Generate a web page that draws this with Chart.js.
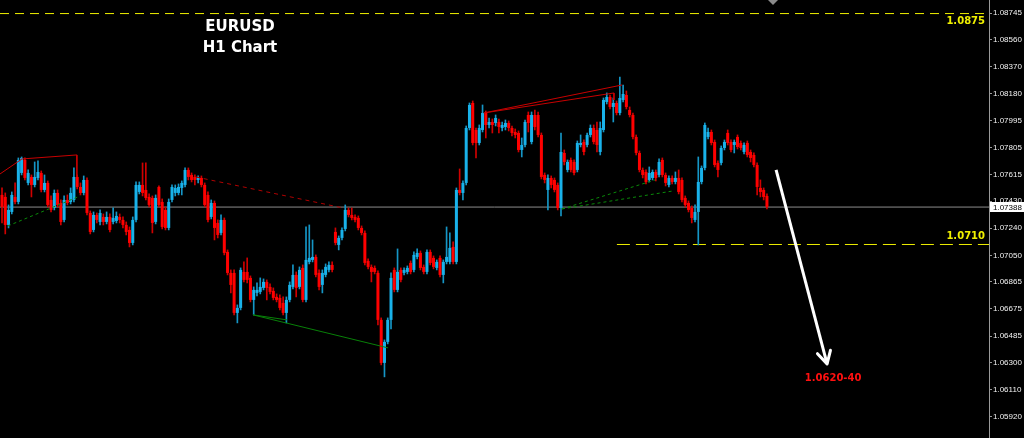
<!DOCTYPE html>
<html><head><meta charset="utf-8">
<script src="https://cdn.jsdelivr.net/npm/chart.js@4.4.1/dist/chart.umd.min.js"></script>
<style>html,body{margin:0;padding:0;background:#000;overflow:hidden}canvas{display:block}</style>
</head><body>
<canvas id="c" width="1024" height="438"></canvas>
<script>
// ---- EURUSD H1 candles (prices) ----
const opens = [1.07473,1.07459,1.07263,1.07354,1.07459,1.07424,1.07627,1.07718,1.07557,1.07599,
1.07543,1.07592,1.07627,1.07508,1.07557,1.07438,1.07382,1.07487,1.07417,1.07298,
1.07438,1.07424,1.07438,1.07599,1.07529,1.07487,1.07578,1.07347,1.07228,1.07333,
1.07284,1.07319,1.07284,1.07319,1.07284,1.07291,1.07319,1.07298,1.07263,1.07228,
1.07137,1.07298,1.07494,1.07543,1.07508,1.07459,1.07452,1.07284,1.07529,1.07424,
1.07368,1.07242,1.07438,1.07487,1.07487,1.07522,1.07543,1.07648,1.07613,1.07599,
1.07578,1.07592,1.07543,1.07473,1.07319,1.07417,1.07277,1.07207,1.07298,1.07074,
1.06927,1.06927,1.06647,1.06682,1.06934,1.06934,1.06892,1.06738,1.06787,1.06794,
1.06822,1.06864,1.06829,1.06801,1.06759,1.06752,1.06717,1.06647,1.06738,1.06829,
1.06913,1.06829,1.06962,1.06738,1.07004,1.07018,1.07039,1.06927,1.06843,1.06913,
1.06948,1.06983,1.07214,1.07123,1.07172,1.07235,1.07368,1.07333,1.07319,1.07312,
1.07242,1.07207,1.07011,1.06969,1.06962,1.06927,1.06598,1.06297,1.06444,1.06598,
1.06948,1.06808,1.06948,1.06927,1.06934,1.06997,1.06948,1.07039,1.07067,1.06969,
1.06934,1.07074,1.07032,1.06962,1.07032,1.06913,1.07004,1.07004,1.07109,1.07004,
1.07508,1.07487,1.07557,1.07942,1.08117,1.07928,1.07837,1.07928,1.08047,1.07963,
1.07984,1.07977,1.07984,1.07942,1.07949,1.07977,1.07942,1.07914,1.07907,1.07788,
1.07823,1.08033,1.07844,1.08033,1.08033,1.07893,1.07613,1.07508,1.07592,1.07578,
1.07543,1.07382,1.07767,1.07648,1.07718,1.07704,1.07648,1.07823,1.07844,1.07823,
1.07893,1.07942,1.07928,1.07774,1.07928,1.08124,1.08159,1.08089,1.08117,1.08047,
1.08138,1.08173,1.08068,1.08033,1.07879,1.07767,1.07648,1.07634,1.07578,1.07592,
1.07634,1.07613,1.07718,1.07613,1.07543,1.07592,1.07564,1.07592,1.07578,1.07452,
1.07417,1.07382,1.07298,1.07354,1.07564,1.07662,1.07879,1.07914,1.07844,1.07697,
1.07697,1.07802,1.07907,1.07844,1.07823,1.07879,1.07837,1.07774,1.07837,1.07774,
1.07753,1.07683,1.07522,1.07508,1.07466];
const highs = [1.07522,1.07487,1.07403,1.07494,1.07557,1.07732,1.07739,1.07732,1.07648,1.07613,
1.07704,1.07711,1.07641,1.07613,1.07571,1.07466,1.07508,1.07508,1.07438,1.07466,
1.07473,1.07522,1.07662,1.07613,1.07557,1.07606,1.07592,1.07361,1.07354,1.07347,
1.07368,1.07340,1.07354,1.07340,1.07382,1.07354,1.07340,1.07319,1.07284,1.07249,
1.07319,1.07564,1.07564,1.07697,1.07697,1.07480,1.07466,1.07473,1.07536,1.07445,
1.07389,1.07445,1.07543,1.07543,1.07550,1.07571,1.07662,1.07662,1.07627,1.07613,
1.07606,1.07606,1.07557,1.07494,1.07438,1.07431,1.07298,1.07333,1.07312,1.07088,
1.06948,1.06948,1.06703,1.06962,1.07004,1.07032,1.06906,1.06829,1.06857,1.06892,
1.06885,1.06878,1.06850,1.06822,1.06780,1.06773,1.06759,1.06759,1.06864,1.06983,
1.06934,1.06969,1.06983,1.07249,1.07263,1.07158,1.07053,1.06948,1.06948,1.06990,
1.07004,1.07004,1.07242,1.07186,1.07242,1.07403,1.07382,1.07382,1.07333,1.07326,
1.07256,1.07221,1.07025,1.06983,1.06976,1.06941,1.06612,1.06458,1.06612,1.06927,
1.06962,1.07095,1.06962,1.06962,1.06976,1.07011,1.07074,1.07095,1.07081,1.06983,
1.07088,1.07088,1.07046,1.07018,1.07046,1.07018,1.07249,1.07207,1.07144,1.07522,
1.07655,1.07571,1.07956,1.08117,1.08131,1.07942,1.07963,1.08103,1.08061,1.08012,
1.08005,1.08033,1.08005,1.07984,1.07998,1.07991,1.07956,1.07935,1.07921,1.07872,
1.07998,1.08054,1.08054,1.08068,1.08054,1.07907,1.07627,1.07613,1.07606,1.07592,
1.07557,1.07907,1.07788,1.07718,1.07732,1.07718,1.07851,1.07893,1.07858,1.07907,
1.07963,1.07963,1.07984,1.07984,1.08152,1.08187,1.08173,1.08152,1.08131,1.08299,
1.08243,1.08201,1.08089,1.08047,1.07893,1.07781,1.07662,1.07648,1.07669,1.07648,
1.07648,1.07725,1.07732,1.07627,1.07606,1.07606,1.07634,1.07648,1.07592,1.07466,
1.07431,1.07396,1.07403,1.07739,1.07676,1.07977,1.07942,1.07928,1.07858,1.07711,
1.07816,1.07858,1.07928,1.07858,1.07858,1.07893,1.07851,1.07837,1.07851,1.07788,
1.07767,1.07697,1.07578,1.07522,1.07480];
const lows = [1.07277,1.07200,1.07242,1.07340,1.07410,1.07410,1.07613,1.07578,1.07543,1.07459,
1.07529,1.07578,1.07494,1.07494,1.07389,1.07354,1.07368,1.07389,1.07263,1.07284,
1.07403,1.07410,1.07424,1.07515,1.07473,1.07473,1.07333,1.07200,1.07214,1.07277,
1.07263,1.07263,1.07270,1.07214,1.07270,1.07277,1.07277,1.07242,1.07193,1.07109,
1.07123,1.07284,1.07480,1.07466,1.07438,1.07389,1.07207,1.07270,1.07389,1.07235,
1.07228,1.07228,1.07424,1.07466,1.07473,1.07473,1.07529,1.07578,1.07564,1.07543,
1.07557,1.07529,1.07389,1.07284,1.07305,1.07158,1.07172,1.07193,1.07053,1.06913,
1.06787,1.06633,1.06577,1.06668,1.06864,1.06857,1.06724,1.06633,1.06766,1.06780,
1.06808,1.06738,1.06780,1.06738,1.06724,1.06668,1.06633,1.06577,1.06724,1.06815,
1.06759,1.06815,1.06724,1.06724,1.06990,1.07004,1.06899,1.06808,1.06787,1.06899,
1.06934,1.06934,1.07123,1.07088,1.07158,1.07221,1.07319,1.07298,1.07284,1.07228,
1.07193,1.06983,1.06955,1.06864,1.06920,1.06563,1.06283,1.06199,1.06430,1.06535,
1.06794,1.06794,1.06864,1.06913,1.06920,1.06920,1.06934,1.07025,1.06948,1.06920,
1.06920,1.06983,1.06955,1.06948,1.06899,1.06857,1.06990,1.06990,1.06990,1.06990,
1.07473,1.07438,1.07543,1.07928,1.07823,1.07732,1.07823,1.07914,1.07872,1.07942,
1.07907,1.07956,1.07907,1.07921,1.07928,1.07921,1.07886,1.07872,1.07774,1.07739,
1.07809,1.07914,1.07830,1.07928,1.07879,1.07585,1.07557,1.07368,1.07522,1.07494,
1.07368,1.07326,1.07683,1.07634,1.07634,1.07613,1.07634,1.07809,1.07753,1.07809,
1.07879,1.07830,1.07774,1.07753,1.07914,1.08110,1.08075,1.07984,1.08033,1.08033,
1.08124,1.08075,1.08019,1.07865,1.07753,1.07634,1.07592,1.07550,1.07564,1.07578,
1.07571,1.07599,1.07599,1.07536,1.07529,1.07550,1.07550,1.07480,1.07424,1.07389,
1.07354,1.07277,1.07284,1.07123,1.07550,1.07648,1.07865,1.07823,1.07669,1.07599,
1.07683,1.07788,1.07823,1.07774,1.07767,1.07795,1.07788,1.07760,1.07739,1.07704,
1.07669,1.07473,1.07459,1.07438,1.07375];
const closes = [1.07389,1.07263,1.07368,1.07473,1.07424,1.07718,1.07732,1.07592,1.07627,1.07543,
1.07599,1.07634,1.07508,1.07557,1.07403,1.07368,1.07487,1.07403,1.07284,1.07438,
1.07417,1.07487,1.07599,1.07529,1.07487,1.07578,1.07347,1.07214,1.07333,1.07298,
1.07347,1.07284,1.07319,1.07228,1.07312,1.07326,1.07298,1.07263,1.07214,1.07137,
1.07298,1.07543,1.07543,1.07487,1.07452,1.07403,1.07277,1.07452,1.07403,1.07249,
1.07242,1.07424,1.07529,1.07522,1.07529,1.07557,1.07648,1.07599,1.07578,1.07578,
1.07592,1.07543,1.07403,1.07298,1.07417,1.07242,1.07193,1.07298,1.07067,1.06927,
1.06843,1.06647,1.06682,1.06948,1.06878,1.06878,1.06738,1.06808,1.06808,1.06829,
1.06864,1.06822,1.06794,1.06752,1.06738,1.06682,1.06647,1.06738,1.06843,1.06913,
1.06822,1.06948,1.06738,1.07018,1.07032,1.07039,1.06913,1.06829,1.06927,1.06969,
1.06983,1.06948,1.07137,1.07172,1.07228,1.07368,1.07333,1.07312,1.07298,1.07242,
1.07207,1.06997,1.06969,1.06934,1.06934,1.06598,1.06297,1.06444,1.06598,1.06892,
1.06808,1.06934,1.06878,1.06948,1.06962,1.06934,1.07053,1.07067,1.06962,1.06934,
1.07074,1.06997,1.06969,1.07004,1.06913,1.07004,1.07039,1.07102,1.07004,1.07508,
1.07487,1.07557,1.07942,1.08103,1.07837,1.07837,1.07942,1.08047,1.07963,1.07984,
1.07963,1.08012,1.07949,1.07963,1.07977,1.07942,1.07907,1.07893,1.07788,1.07823,
1.07984,1.07977,1.08033,1.07949,1.07893,1.07599,1.07578,1.07592,1.07543,1.07508,
1.07382,1.07774,1.07704,1.07704,1.07648,1.07627,1.07837,1.07837,1.07774,1.07893,
1.07942,1.07844,1.07823,1.07942,1.08138,1.08159,1.08089,1.08117,1.08047,1.08152,
1.08180,1.08089,1.08033,1.07879,1.07767,1.07648,1.07613,1.07564,1.07627,1.07634,
1.07592,1.07704,1.07613,1.07557,1.07592,1.07564,1.07592,1.07494,1.07438,1.07403,
1.07368,1.07312,1.07354,1.07564,1.07662,1.07963,1.07914,1.07837,1.07683,1.07648,
1.07802,1.07844,1.07837,1.07788,1.07844,1.07809,1.07802,1.07823,1.07753,1.07732,
1.07683,1.07529,1.07494,1.07459,1.07389];

// ---- axis ----
const yTickValues = [1.08745,1.08560,1.08370,1.08180,1.07995,1.07805,1.07615,1.07430,1.07240,1.07050,1.06865,1.06675,1.06485,1.06300,1.06110,1.05920];
const yTickLabels = ['1.08745','1.08560','1.08370','1.08180','1.07995','1.07805','1.07615','1.07430','1.07240','1.07050','1.06865','1.06675','1.06485','1.06300','1.06110','1.05920'];
const yMin = 1.05771, yMax = 1.08838;
const xMin = -0.612, xMax = 301.93;

// ---- levels, annotations (bar index, price) ----
const currentPrice = 1.07388, currentPriceLabel = '1.07388';
const levelTop = 1.08743, levelTopLabel = '1.0875';
const levelSupport = 1.07126, levelSupportLabel = '1.0710', levelSupportFrom = 188.1;
const redTrend1 = [{x:-0.6,y:1.07620},{x:6.1,y:1.07725},{x:22.9,y:1.07753},{x:22.9,y:1.07599}];
const greenDash1 = [{x:1.8,y:1.07256},{x:23.9,y:1.07466}];
const redDash1 = [{x:59.3,y:1.07599},{x:104.3,y:1.07382}];
const greenLineA = [{x:76.8,y:1.06633},{x:87.2,y:1.06598}];
const greenLineB = [{x:76.8,y:1.06633},{x:118.1,y:1.06402}];
const redTopA = [{x:147.4,y:1.08047},{x:189.7,y:1.08243}];
const redTopB = [{x:147.4,y:1.08047},{x:187.2,y:1.08187},{x:187.2,y:1.08138}];
const greenDashC = [{x:171.3,y:1.07375},{x:199.8,y:1.07578}];
const greenDashD = [{x:171.3,y:1.07375},{x:205.3,y:1.07501}];
const arrowPath = [{x:236.8,y:1.07648},{x:252.4,y:1.06290}];
const targetLabel = '1.0620-40';
const titleLines = ['EURUSD','H1 Chart'];

const BLUE = '#19b2ea', RED = '#ff0000', BLUE_W = '#1596c6', RED_W = '#d00000';
const idx = closes.map((_, i) => i);
const isUp = i => closes[i] >= opens[i];

function lineDs(data, color, width, dash, order) {
  return {type:'line', data, borderColor:color, borderWidth:width, borderDash:dash||[],
    pointRadius:0, pointHoverRadius:0, fill:false, tension:0, order, clip:false};
}

const overlay = {
  id:'overlay',
  beforeDraw(chart){ const c=chart.ctx; c.save(); c.fillStyle='#000'; c.fillRect(0,0,chart.width,chart.height); c.restore(); },
  afterDraw(chart){
    const {ctx, chartArea:ca} = chart; const x = chart.scales.x, y = chart.scales.y;
    ctx.save();
    // arrow head
    const x1=x.getPixelForValue(arrowPath[0].x), y1=y.getPixelForValue(arrowPath[0].y);
    const x2=x.getPixelForValue(arrowPath[1].x), y2=y.getPixelForValue(arrowPath[1].y);
    const ang=Math.atan2(y2-y1,x2-x1);
    ctx.strokeStyle='#ffffff'; ctx.lineWidth=3; ctx.lineCap='round';
    ctx.beginPath();
    [-1,1].forEach(s=>{ const a=ang+Math.PI+s*0.5; ctx.moveTo(x2,y2); ctx.lineTo(x2+14*Math.cos(a), y2+14*Math.sin(a)); });
    ctx.stroke();
    // title
    ctx.fillStyle='#ffffff'; ctx.textAlign='center'; ctx.textBaseline='middle';
    ctx.font='bold 15px "DejaVu Sans"';
    ctx.fillText(titleLines[0], 240, 27);
    ctx.fillText(titleLines[1], 240, 48);
    // target label
    ctx.fillStyle='#ff1010'; ctx.font='bold 10px "DejaVu Sans"';
    ctx.fillText(targetLabel, x2+6, y2+15);
    // level labels
    ctx.fillStyle='#f0f000'; ctx.textAlign='right';
    ctx.fillText(levelTopLabel, ca.right-4, y.getPixelForValue(levelTop)+8);
    ctx.fillText(levelSupportLabel, ca.right-4, y.getPixelForValue(levelSupport)-8);
    // current price box
    const py=y.getPixelForValue(currentPrice);
    ctx.fillStyle='#ffffff'; ctx.fillRect(ca.right+1, Math.round(py)-5, 35, 10);
    ctx.fillStyle='#000000'; ctx.textAlign='left'; ctx.font='8px "Liberation Sans"';
    ctx.fillText(currentPriceLabel, ca.right+4, py+0.5);
    // chart-shift marker
    ctx.fillStyle='#8a8a8a'; ctx.beginPath(); ctx.moveTo(768,0); ctx.lineTo(778,0); ctx.lineTo(773,5); ctx.closePath(); ctx.fill();
    ctx.restore();
  }
};

new Chart(document.getElementById('c'), {
  type:'bar',
  data:{ datasets:[
    lineDs(arrowPath,'#ffffff',3,[],0),
    lineDs(redTrend1,'#c80000',1,[],1),
    lineDs(greenDash1,'#0a8a0a',1,[3,3],1),
    lineDs(redDash1,'#b00000',1,[4,4],1),
    lineDs(greenLineA,'#088008',1,[],1),
    lineDs(greenLineB,'#088008',1,[],1),
    lineDs(redTopA,'#c80000',1,[],1),
    lineDs(redTopB,'#c80000',1,[],1),
    lineDs(greenDashC,'#0a8a0a',1,[3,3],1),
    lineDs(greenDashD,'#0a8a0a',1,[3,3],1),
    {type:'bar', data: idx.map(i=>({x:i, y:[opens[i], closes[i]]})),
      backgroundColor: idx.map(i=> isUp(i)?BLUE:RED), borderWidth:0, barThickness:3, minBarLength:1, grouped:false, inflateAmount:0, order:2},
    {type:'bar', data: idx.map(i=>({x:i, y:[lows[i], highs[i]]})),
      backgroundColor: idx.map(i=> isUp(i)?BLUE_W:RED_W), borderWidth:0, barThickness:1, grouped:false, order:3},
    lineDs([{x:xMin,y:levelTop},{x:xMax,y:levelTop}],'#f0f000',1,[9,6],4),
    lineDs([{x:levelSupportFrom,y:levelSupport},{x:xMax,y:levelSupport}],'#ecec00',1,[13,6],4),
    lineDs([{x:xMin,y:currentPrice},{x:xMax,y:currentPrice}],'#8c8c8c',1,[],5)
  ]},
  options:{
    responsive:false, animation:false, devicePixelRatio:1,
    layout:{padding:0},
    plugins:{legend:{display:false}, tooltip:{enabled:false}},
    scales:{
      x:{type:'linear', display:false, min:xMin, max:xMax, offset:false},
      y:{position:'right', min:yMin, max:yMax,
        afterBuildTicks: s => { s.ticks = yTickValues.map(v=>({value:v})); },
        afterFit: s => { s.width = 35; s.paddingTop = 0; s.paddingBottom = 0; },
        ticks:{color:'#f2f2f2', font:{family:'Liberation Sans', size:8}, padding:1, autoSkip:false, maxRotation:0,
          callback:(v,i)=>yTickLabels[i]},
        grid:{drawOnChartArea:false, tickLength:3, color:'#9a9a9a'},
        border:{color:'#9a9a9a', width:1}
      }
    }
  },
  plugins:[overlay]
});
</script>
</body></html>
